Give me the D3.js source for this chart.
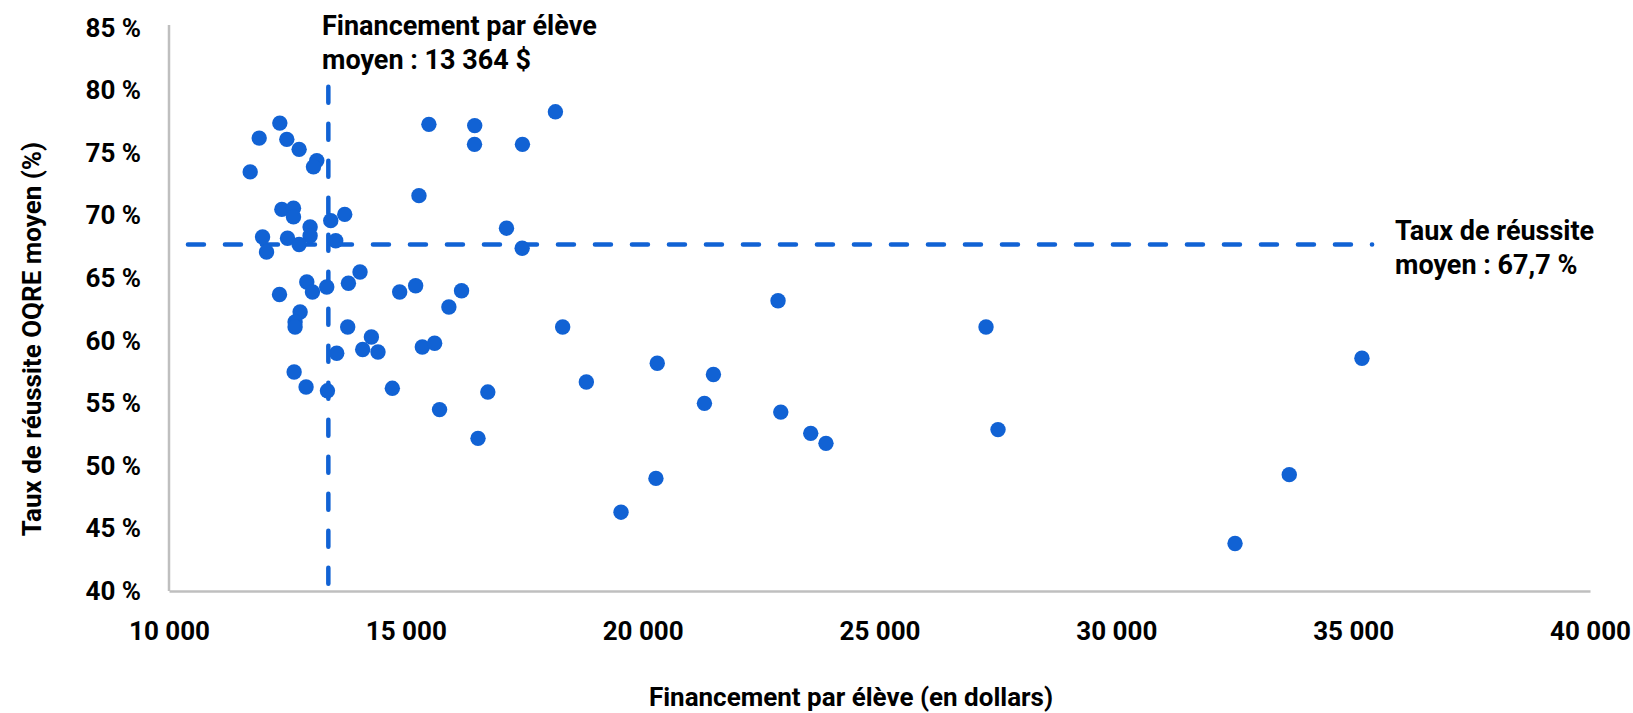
<!DOCTYPE html>
<html>
<head>
<meta charset="utf-8">
<script src="https://cdn.jsdelivr.net/npm/d3@7"></script>
<style>
  body { margin: 0; background: #fff; }
  text { font-family: Roboto, "Liberation Sans", sans-serif; font-weight: bold; fill: #000; }
</style>
</head>
<body>
<svg id="chart" width="1633" height="713"></svg>
<script>
// funding per student ($) and mean OQRE success rate (%), one entry per board
const funding = [
  12340, 11904, 12487, 12747, 13120, 13050, 11714, 15487, 15277, 12382,
  12628, 12628, 13710, 13415, 12979, 12979, 11975, 12502, 12747, 13520,
  12059, 14033, 12909, 13788, 13029, 13330, 12333, 14870, 15207,
  15909, 12768, 12662, 12662, 13773, 14273, 14089, 14412, 13541,
  15348, 15608, 12642, 12894, 13345, 14715, 15712, 16454, 16450, 17462,
  18158, 17125, 17456, 16176, 18311, 16731, 16524, 22858, 18811, 20308,
  21494, 21304, 22916, 23548, 23870, 20280, 19543, 27249, 27502, 35185,
  33651, 32506
];
const successRate = [
  77.4, 76.2, 76.1, 75.3, 74.4, 73.9, 73.5, 77.3, 71.6, 70.5,
  70.6, 69.9, 70.1, 69.6, 69.1, 68.4, 68.3, 68.2, 67.7, 68.0,
  67.1, 65.5, 64.7, 64.6, 63.9, 64.3, 63.7, 63.9, 64.4,
  62.7, 62.3, 61.5, 61.1, 61.1, 60.3, 59.3, 59.1, 59.0,
  59.5, 59.8, 57.5, 56.3, 56.0, 56.2, 54.5, 77.2, 75.7, 75.7,
  78.3, 69.0, 67.4, 64.0, 61.1, 55.9, 52.2, 63.2, 56.7, 58.2,
  57.3, 55.0, 54.3, 52.6, 51.8, 49.0, 46.3, 61.1, 52.9, 58.6,
  49.3, 43.8
];

const xTicks = [10000, 15000, 20000, 25000, 30000, 35000, 40000];
const yTicks = [40, 45, 50, 55, 60, 65, 70, 75, 80, 85];

const meanFunding = 13364;
const meanSuccess = 67.7;
const meanFundingSpan = [40, 80.3];      // y extent of the vertical mean line
const meanSuccessSpan = [10400, 35400];  // x extent of the horizontal mean line

const blue = "#1162d4";
const svg = d3.select("#chart");

const fr = d3.formatLocale({ decimal: ",", thousands: " ", grouping: [3], currency: ["", " $"] });
const fmtX = fr.format(",d");

const x = d3.scaleLinear().domain([10000, 40000]).range([169, 1590]);
const y = d3.scaleLinear().domain([40, 85]).range([591, 28]);

const xAxis = svg.append("g")
  .attr("transform", `translate(0,${y(40)})`)
  .call(d3.axisBottom(x).tickValues(xTicks).tickSize(0).tickPadding(31).tickFormat(fmtX));

const yAxis = svg.append("g")
  .attr("transform", `translate(${x(10000)},0)`)
  .call(d3.axisLeft(y).tickValues(yTicks).tickSize(0).tickPadding(28).tickFormat(d => d + " %"));

[xAxis, yAxis].forEach(g => {
  g.select(".domain").attr("stroke", "#bfbfbf").attr("stroke-width", 2.5);
  g.selectAll("text").style("font-size", "26px").attr("fill", "#000");
});
yAxis.select(".domain").attr("d", `M0,${y(40)}V${y(85) - 3}`);

// mean lines
svg.append("line")
  .attr("x1", x(meanSuccessSpan[0])).attr("x2", x(meanSuccessSpan[1]))
  .attr("y1", y(meanSuccess)).attr("y2", y(meanSuccess))
  .attr("stroke", blue).attr("stroke-width", 4.5)
  .attr("stroke-dasharray", "16 21").attr("stroke-linecap", "round");

svg.append("line")
  .attr("x1", x(meanFunding)).attr("x2", x(meanFunding))
  .attr("y1", y(meanFundingSpan[1])).attr("y2", y(meanFundingSpan[0]))
  .attr("stroke", blue).attr("stroke-width", 4.5)
  .attr("stroke-dasharray", "16 21").attr("stroke-linecap", "round");

// points
svg.append("g")
  .selectAll("circle")
  .data(funding.map((f, i) => [f, successRate[i]]))
  .join("circle")
  .attr("cx", d => x(d[0]))
  .attr("cy", d => y(d[1]))
  .attr("r", 7.7)
  .attr("fill", blue);

// annotations
const note = (lines, px, py) => {
  const t = svg.append("text").attr("x", px).attr("y", py).style("font-size", "27px");
  lines.forEach((l, i) => t.append("tspan").attr("x", px).attr("dy", i ? 34 : 0).text(l));
};
note(["Financement par élève", "moyen : " + fr.format(",d")(meanFunding) + " $"], 322, 35);
note(["Taux de réussite", "moyen : " + fr.format(".1f")(meanSuccess) + " %"], 1395, 240);

// axis titles
svg.append("text")
  .attr("x", 851).attr("y", 697).attr("dy", "0.35em")
  .attr("text-anchor", "middle").style("font-size", "26px")
  .text("Financement par élève (en dollars)");

svg.append("text")
  .attr("transform", "translate(32,339) rotate(-90)")
  .attr("dy", "0.35em")
  .attr("text-anchor", "middle").style("font-size", "26px")
  .text("Taux de réussite OQRE moyen (%)");
</script>
</body>
</html>
